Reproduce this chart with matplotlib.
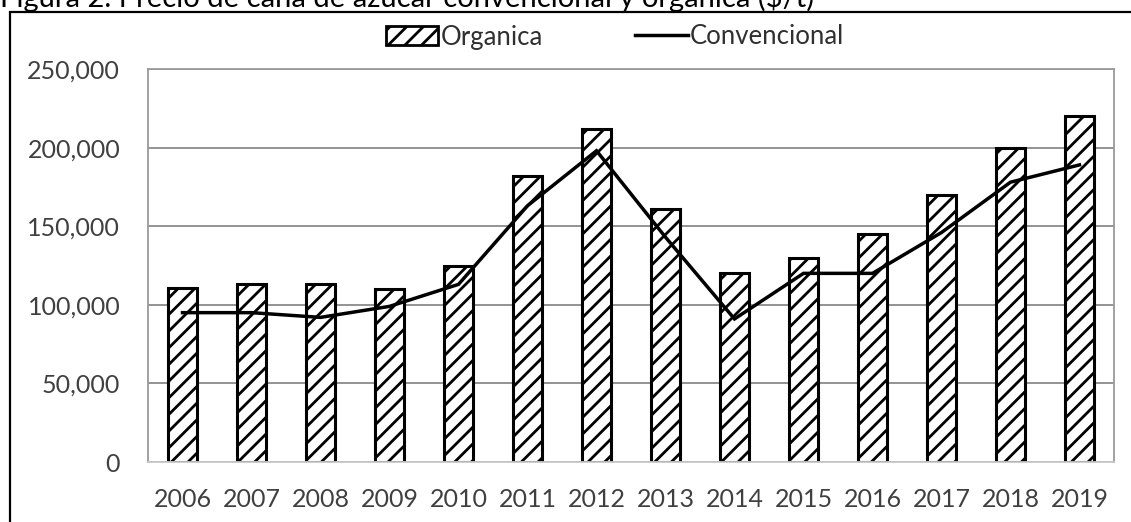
import matplotlib
matplotlib.use("Agg")
import matplotlib.pyplot as plt
from matplotlib.patches import Rectangle, Patch
from matplotlib.lines import Line2D
from matplotlib.ticker import FuncFormatter

# Data
years = ["2006", "2007", "2008", "2009", "2010", "2011", "2012",
         "2013", "2014", "2015", "2016", "2017", "2018", "2019"]
organica = [111000, 113000, 113000, 110000, 125000, 182000, 212000,
            161000, 120000, 130000, 145000, 170000, 200000, 220000]
convencional = [95000, 95000, 92000, 99000, 113000, 163000, 198000,
                143000, 91000, 120000, 120000, 146000, 178000, 189000]
y_ticks = [0, 50000, 100000, 150000, 200000, 250000]
title = "Figura 2. Precio de caña de azúcar convencional y orgánica ($/t)"

plt.rcParams["font.family"] = ["Lato", "DejaVu Sans"]
plt.rcParams["hatch.linewidth"] = 2.0

W, H = 1131, 522
fig = plt.figure(figsize=(W / 100, H / 100), dpi=100)
fig.patch.set_facecolor("white")

# plot area in pixel units
L, R, T, B = 148, 1114, 69, 462
ax = fig.add_axes([L / W, 1 - B / H, (R - L) / W, (B - T) / H])

x = list(range(len(years)))
ax.bar(x, organica, width=0.43, color="white", edgecolor="black",
       hatch="//", linewidth=2.2, zorder=2)
ax.plot(x, convencional, color="black", linewidth=2.5, zorder=3,
        solid_joinstyle="miter")

ax.set_xlim(-0.5, len(years) - 0.5)
ax.set_ylim(0, 250000)
ax.set_yticks(y_ticks)
ax.yaxis.set_major_formatter(FuncFormatter(lambda v, p: f"{int(v):,}"))
ax.set_xticks(x)
ax.set_xticklabels(years)

ax.grid(axis="y", color="#8a8a8a", linewidth=1.3, zorder=0)
ax.set_axisbelow(True)
ax.tick_params(axis="both", length=0, labelsize=18, labelcolor="#404040")
ax.tick_params(axis="y", pad=20)
ax.tick_params(axis="x", pad=19)
for side in ["left", "top", "right"]:
    ax.spines[side].set_color("#9a9a9a")
    ax.spines[side].set_linewidth(1.3)
ax.spines["bottom"].set_color("#c8c8c8")
ax.spines["bottom"].set_linewidth(1.3)

# legend above the plot area
handles = [Patch(facecolor="white", edgecolor="black", hatch="//", linewidth=2.0),
           Line2D([0], [0], color="black", linewidth=2.5)]
fig.legend(handles, ["Organica", "Convencional"], loc="center",
           bbox_to_anchor=(615 / W, 1 - 37 / H), ncol=2, frameon=False,
           fontsize=18.5, handlelength=2.05, handleheight=0.75,
           handletextpad=0.08, columnspacing=3.6, labelcolor="#303030")

# outer frame around the chart (open to the right and bottom)
fig.add_artist(Rectangle((10 / W, -0.1), 1.2, 1.1 - 12 / H,
                         transform=fig.transFigure, fill=False,
                         edgecolor="black", linewidth=1.6))

# caption line above the frame
fig.text(0, 1 - 7.5 / H, title, fontsize=21, color="black",
         ha="left", va="baseline")

fig.savefig("out.png", dpi=100, facecolor="white")
